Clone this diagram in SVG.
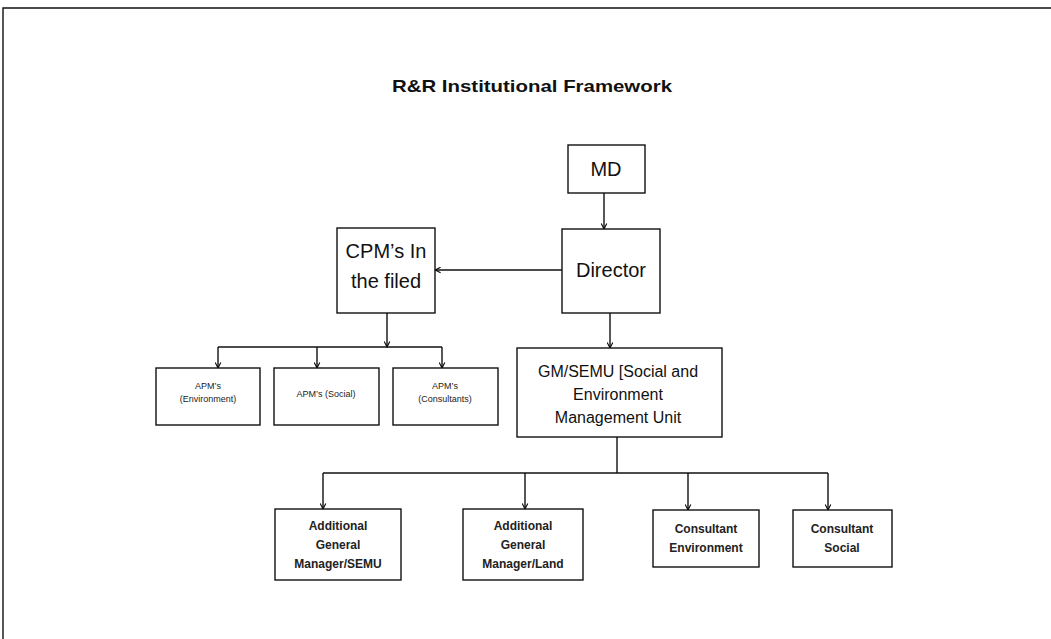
<svg xmlns="http://www.w3.org/2000/svg" width="1051" height="639" viewBox="0 0 1051 639">
  <defs>
    <marker id="arrow" viewBox="0 0 10 10" refX="9" refY="5" markerWidth="7" markerHeight="7" orient="auto" markerUnits="userSpaceOnUse">
      <path d="M1,1 L9,5 L1,9" fill="none" stroke="#000" stroke-width="1.5"/>
    </marker>
    <style>
      .box { fill: #fff; stroke: #111; stroke-width: 1.4; }
      .line { fill: none; stroke: #111; stroke-width: 1.4; }
      .big { font-family: "Liberation Sans", Arial, sans-serif; font-size: 20px; fill: #111; text-anchor: middle; }
      .mid { font-family: "Liberation Sans", Arial, sans-serif; font-size: 16px; fill: #111; text-anchor: middle; }
      .small { font-family: "Liberation Sans", Arial, sans-serif; font-size: 12px; font-weight: bold; fill: #222; text-anchor: middle; }
      .tiny { font-family: "Liberation Sans", Arial, sans-serif; font-size: 9px; fill: #222; text-anchor: middle; }
      .title { font-family: "Liberation Sans", Arial, sans-serif; font-size: 17px; font-weight: bold; fill: #111; text-anchor: middle; }
    </style>
  </defs>
  <rect width="1051" height="639" fill="#fff"/>

  <!-- page frame -->
  <path d="M3,639 V8 H1051" class="line" stroke-width="2"/>

  <text x="532" y="92" class="title" textLength="280" lengthAdjust="spacingAndGlyphs">R&amp;R Institutional Framework</text>

  <g id="connectors">
    <path d="M604,193 V229" class="line" marker-end="url(#arrow)"/>
    <path d="M562,270 H435" class="line" marker-end="url(#arrow)"/>
    <path d="M387,313 V347" class="line" marker-end="url(#arrow)"/>
    <path d="M218,347 H442" class="line"/>
    <path d="M218,347 V368" class="line" marker-end="url(#arrow)"/>
    <path d="M317,347 V368" class="line" marker-end="url(#arrow)"/>
    <path d="M442,347 V368" class="line" marker-end="url(#arrow)"/>
    <path d="M610,313 V348" class="line" marker-end="url(#arrow)"/>
    <path d="M617,437 V473" class="line"/>
    <path d="M323,473 H828" class="line"/>
    <path d="M323,473 V509" class="line" marker-end="url(#arrow)"/>
    <path d="M525,473 V509" class="line" marker-end="url(#arrow)"/>
    <path d="M688,473 V510" class="line" marker-end="url(#arrow)"/>
    <path d="M828,473 V510" class="line" marker-end="url(#arrow)"/>
  </g>

  <g id="md">
    <rect x="568" y="145" width="77" height="48" class="box"/>
    <text x="606" y="176" class="big">MD</text>
  </g>

  <g id="director">
    <rect x="562" y="229" width="98" height="84" class="box"/>
    <text x="611" y="277" class="big">Director</text>
  </g>

  <g id="cpm">
    <rect x="337" y="228" width="98" height="85" class="box"/>
    <text x="386" y="258" class="big">CPM’s In</text>
    <text x="386" y="288" class="big">the filed</text>
  </g>

  <g id="apm-environment">
    <rect x="156" y="368" width="104" height="57" class="box"/>
    <text x="208" y="389" class="tiny">APM’s</text>
    <text x="208" y="402" class="tiny">(Environment)</text>
  </g>

  <g id="apm-social">
    <rect x="274" y="368" width="105" height="57" class="box"/>
    <text x="326" y="397" class="tiny">APM’s (Social)</text>
  </g>

  <g id="apm-consultants">
    <rect x="393" y="368" width="105" height="57" class="box"/>
    <text x="445" y="389" class="tiny">APM’s</text>
    <text x="445" y="402" class="tiny">(Consultants)</text>
  </g>

  <g id="gm-semu">
    <rect x="517" y="348" width="205" height="89" class="box"/>
    <text x="618" y="377" class="mid">GM/SEMU [Social and</text>
    <text x="618" y="400" class="mid">Environment</text>
    <text x="618" y="423" class="mid">Management Unit</text>
  </g>

  <g id="agm-semu">
    <rect x="275" y="509" width="126" height="71" class="box"/>
    <text x="338" y="530" class="small">Additional</text>
    <text x="338" y="549" class="small">General</text>
    <text x="338" y="568" class="small">Manager/SEMU</text>
  </g>

  <g id="agm-land">
    <rect x="463" y="509" width="120" height="71" class="box"/>
    <text x="523" y="530" class="small">Additional</text>
    <text x="523" y="549" class="small">General</text>
    <text x="523" y="568" class="small">Manager/Land</text>
  </g>

  <g id="consultant-environment">
    <rect x="653" y="510" width="106" height="57" class="box"/>
    <text x="706" y="533" class="small">Consultant</text>
    <text x="706" y="552" class="small">Environment</text>
  </g>

  <g id="consultant-social">
    <rect x="793" y="510" width="99" height="57" class="box"/>
    <text x="842" y="533" class="small">Consultant</text>
    <text x="842" y="552" class="small">Social</text>
  </g>
</svg>
